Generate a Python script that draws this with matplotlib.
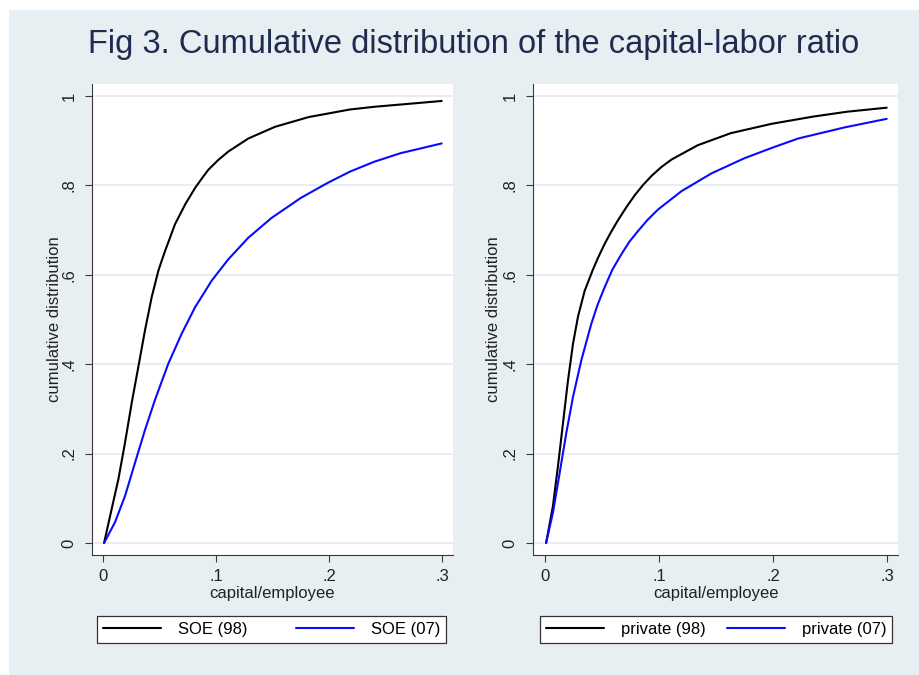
#!/usr/bin/env python3
"""Fig 3: cumulative distribution of the capital-labor ratio (SOE vs private)."""

import matplotlib

matplotlib.use("Agg")
import matplotlib.pyplot as plt
from matplotlib.patches import Rectangle

plt.rcParams["font.family"] = ["Liberation Sans", "DejaVu Sans"]

TITLE = "Fig 3. Cumulative distribution of the capital-labor ratio"
X_LABEL = "capital/employee"
Y_LABEL = "cumulative distribution"
X_TICKS = [0, 0.1, 0.2, 0.3]
X_TICK_LABELS = ["0", ".1", ".2", ".3"]
Y_TICKS = [0, 0.2, 0.4, 0.6, 0.8, 1.0]
Y_TICK_LABELS = ["0", ".2", ".4", ".6", ".8", "1"]

# values
soe98_x = [0.001, 0.0077, 0.0136, 0.0195, 0.0254, 0.0313, 0.0372, 0.0431, 0.046, 0.049,
           0.0519, 0.0549, 0.0593, 0.0637, 0.0726, 0.0814, 0.0873, 0.0932, 0.102, 0.111,
           0.1286, 0.152, 0.182, 0.2186, 0.24, 0.263, 0.2997]
soe98_y = [0.0, 0.076, 0.142, 0.224, 0.313, 0.394, 0.476, 0.550, 0.579, 0.609,
           0.631, 0.653, 0.683, 0.713, 0.757, 0.794, 0.815, 0.835, 0.857, 0.876,
           0.905, 0.931, 0.953, 0.970, 0.976, 0.981, 0.989]

soe07_x = [0.001, 0.0106, 0.0195, 0.0283, 0.0372, 0.046, 0.0578, 0.0696, 0.0814, 0.0962,
           0.111, 0.1286, 0.149, 0.175, 0.199, 0.2186, 0.24, 0.263, 0.2997]
soe07_y = [0.0, 0.046, 0.105, 0.179, 0.253, 0.320, 0.401, 0.468, 0.527, 0.587,
           0.635, 0.683, 0.727, 0.772, 0.806, 0.831, 0.853, 0.872, 0.894]

priv98_x = [0.001, 0.007, 0.0114, 0.0158, 0.0202, 0.0246, 0.029, 0.0348, 0.0421,
            0.0465, 0.0523, 0.058, 0.064, 0.0713, 0.0787, 0.086, 0.0933, 0.102, 0.111,
            0.134, 0.163, 0.199, 0.235, 0.265, 0.2997]
priv98_y = [0.0, 0.083, 0.172, 0.268, 0.364, 0.446, 0.507, 0.564, 0.612,
            0.638, 0.669, 0.696, 0.722, 0.751, 0.778, 0.801, 0.821, 0.841, 0.858,
            0.890, 0.917, 0.938, 0.954, 0.965, 0.974]

priv07_x = [0.001, 0.007, 0.0129, 0.0187, 0.0246, 0.0319, 0.0406, 0.046, 0.0523, 0.059,
            0.067, 0.074, 0.0816, 0.09, 0.0991, 0.1196, 0.146, 0.175, 0.2, 0.222,
            0.263, 0.2997]
priv07_y = [0.0, 0.068, 0.157, 0.246, 0.327, 0.409, 0.490, 0.532, 0.572, 0.611,
            0.646, 0.674, 0.698, 0.723, 0.746, 0.787, 0.827, 0.861, 0.885, 0.905,
            0.930, 0.949]

PANELS = [
    {"series": [(soe98_x, soe98_y, "SOE (98)"), (soe07_x, soe07_y, "SOE (07)")],
     "rect": (92, 84, 453, 555), "xlim": (-0.0097, 0.3097),
     "legend": (97, 612, 446, 643), "ylabel_x": -0.105},
    {"series": [(priv98_x, priv98_y, "private (98)"), (priv07_x, priv07_y, "private (07)")],
     "rect": (533, 84, 898, 555), "xlim": (-0.0105, 0.3096),
     "legend": (540, 612, 892, 643), "ylabel_x": -0.108},
]

W, H = 919, 675
BG = "#e8eff2"
GRID = "#e4edf1"
AXIS = "#3a3a3a"
TITLE_COLOR = "#1f2c50"
LINE_COLORS = ["black", "#0a0aff"]


def fig_box(x0, y0, x1, y1):
    # pixel box (top-left origin) -> figure fraction [left, bottom, width, height]
    return [x0 / W, 1 - y1 / H, (x1 - x0) / W, (y1 - y0) / H]


def main() -> None:
    fig = plt.figure(figsize=(W / 100, H / 100), dpi=100)
    fig.patch.set_facecolor("white")
    fig.patches.append(Rectangle((9 / W, 0), 1 - 9 / W, 1 - 10 / H, transform=fig.transFigure,
                                 facecolor=BG, edgecolor="none", zorder=-10))

    fig.text(474 / W, 1 - 45 / H, TITLE, ha="center", va="center", fontsize=23.5, color=TITLE_COLOR)

    for panel in PANELS:
        ax = fig.add_axes(fig_box(*panel["rect"]))
        ax.set_facecolor("white")
        handles = []
        for (xs, ys, label), color in zip(panel["series"], LINE_COLORS):
            (ln,) = ax.plot(xs, ys, color=color, lw=1.5, label=label,
                            solid_capstyle="round", solid_joinstyle="round")
            handles.append(ln)

        ax.set_xlim(*panel["xlim"])
        ax.set_ylim(-0.027, 1.027)
        ax.set_xticks(X_TICKS, X_TICK_LABELS)
        ax.set_yticks(Y_TICKS, Y_TICK_LABELS)
        ax.tick_params(axis="both", labelsize=12, length=5, width=0.8, color=AXIS, labelcolor="#222222")
        ax.tick_params(axis="x", pad=5)
        ax.tick_params(axis="y", pad=6)
        for t in ax.get_yticklabels():
            t.set_rotation(90)
            t.set_va("center")
            t.set_ha("right")

        ax.grid(axis="y", color=GRID, lw=1.3)
        ax.set_axisbelow(True)
        for side in ("top", "right"):
            ax.spines[side].set_visible(False)
        for side in ("left", "bottom"):
            ax.spines[side].set_color(AXIS)
            ax.spines[side].set_linewidth(0.8)

        ax.set_xlabel(X_LABEL, fontsize=12, color="#222222", va="center")
        ax.xaxis.set_label_coords(0.5, -0.0807)
        ax.set_ylabel(Y_LABEL, fontsize=12, color="#222222", va="center")
        ax.yaxis.set_label_coords(panel["ylabel_x"], 0.5)

        lx0, ly0, lx1, ly1 = panel["legend"]
        leg = ax.legend(handles=handles, loc="lower left", ncol=2, mode="expand",
                        bbox_to_anchor=fig_box(lx0, ly0, lx1, ly1), bbox_transform=fig.transFigure,
                        fontsize=12, handlelength=3.5, handletextpad=1.0, borderaxespad=0,
                        borderpad=0.35, fancybox=False, framealpha=1, edgecolor="#333333")
        leg.get_frame().set_linewidth(0.9)

    fig.savefig("out.png", dpi=100, facecolor=fig.get_facecolor())
    plt.close(fig)


if __name__ == "__main__":
    main()
